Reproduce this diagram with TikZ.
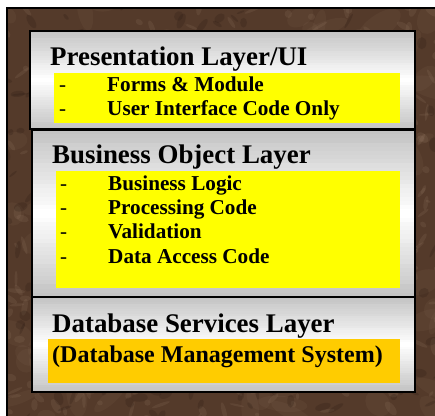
\documentclass[tikz,border=0pt]{standalone}
\usepackage{fontspec}
\setmainfont{Liberation Serif}[BoldFont={Liberation Serif Bold}]
\newfontfamily\timesbold{Liberation Serif Bold}
% vertical grey-white-grey band fill built from thin strips
\newcommand\layerfill[4]{%
  \pgfmathsetmacro{\lfh}{(#4-#2)/40}
  \foreach \k in {0,...,39}{
    \pgfmathsetmacro{\lfa}{#2+\k*\lfh}
    \pgfmathsetmacro{\lfb}{\lfa+\lfh+0.6}
    \pgfmathsetmacro{\lfs}{int(24*abs((\k+0.5)/40-0.5)*2)}
    \fill[black!\lfs] (#1,\lfa) rectangle (#3,\lfb);
  }
}
\begin{document}
\begin{tikzpicture}[x=1pt,y=-1pt,
  layerbox/.style={draw=black,line width=1.5pt},
  titletext/.style={anchor=base west,inner sep=0pt,font=\timesbold\fontsize{26.9}{30}\selectfont},
  itemtext/.style={anchor=base west,inner sep=0pt,font=\timesbold\fontsize{21.2}{24}\selectfont},
  dashtext/.style={anchor=base west,inner sep=0pt,font=\rmfamily\fontsize{21}{24}\selectfont},
  dbmstext/.style={anchor=base west,inner sep=0pt,font=\timesbold\fontsize{24}{28}\selectfont}]
\definecolor{marblebase}{RGB}{84,58,42}
\definecolor{marblelight}{RGB}{165,136,114}
\definecolor{marbledark}{RGB}{40,25,18}
\definecolor{hiyellow}{RGB}{255,255,0}
\definecolor{dbmsgold}{RGB}{255,204,0}
\useasboundingbox (0,0) rectangle (435,415);
\fill[white] (0,0) rectangle (435,415);
% marble frame behind the layers
\fill[marblebase] (7,8) rectangle (440,420);
\begin{scope}
  \clip (7,8) rectangle (435,415);
  \pgfmathsetseed{4217}
  \foreach \i in {1,...,140}{
    \pgfmathsetmacro{\px}{rnd*440}
    \pgfmathsetmacro{\py}{rnd*420}
    \pgfmathsetmacro{\ra}{8+rnd*18}
    \pgfmathsetmacro{\rb}{4+rnd*8}
    \pgfmathsetmacro{\ang}{rnd*180}
    \fill[marblelight,opacity=0.08,rotate around={\ang:(\px,\py)}] (\px,\py) ellipse [x radius=\ra,y radius=\rb];
  }
  \foreach \i in {1,...,420}{
    \pgfmathsetmacro{\px}{rnd*440}
    \pgfmathsetmacro{\py}{rnd*420}
    \pgfmathsetmacro{\ra}{2+rnd*8}
    \pgfmathsetmacro{\rb}{1+rnd*3}
    \pgfmathsetmacro{\ang}{rnd*180}
    \fill[marblelight,opacity=0.14,rotate around={\ang:(\px,\py)}] (\px,\py) ellipse [x radius=\ra,y radius=\rb];
  }
  \foreach \i in {1,...,300}{
    \pgfmathsetmacro{\px}{rnd*440}
    \pgfmathsetmacro{\py}{rnd*420}
    \pgfmathsetmacro{\ra}{2+rnd*7}
    \pgfmathsetmacro{\rb}{1+rnd*4}
    \pgfmathsetmacro{\ang}{rnd*180}
    \fill[marbledark,opacity=0.22,rotate around={\ang:(\px,\py)}] (\px,\py) ellipse [x radius=\ra,y radius=\rb];
  }
\end{scope}
\draw[black,line width=1.5pt] (7,420) -- (7,8) -- (440,8);

% three stacked layers
\layerfill{30}{31}{415}{129}
\draw[layerbox] (30,31) rectangle (415,129);
\layerfill{32}{130}{415}{297}
\draw[layerbox] (32,130) rectangle (415,297);
\layerfill{32}{297}{415}{392}
\draw[layerbox] (32,297) rectangle (415,392);

% highlight bands
\fill[hiyellow] (54,73) rectangle (400,123);
\fill[hiyellow] (56,171) rectangle (400,288);
\fill[dbmsgold] (48,339) rectangle (400,383);

% presentation layer
\node[titletext] (pt) at (50,65) {Presentation Layer/UI};
\node[dashtext] (pd1) at (59,91) {-};
\node[itemtext] (pi1) at (107,91) {Forms \& Module};
\node[dashtext] (pd2) at (59,115) {-};
\node[itemtext] (pi2) at (107,115) {User Interface Code Only};

% business object layer
\node[titletext] (bt) at (52,163) {Business Object Layer};
\node[dashtext] (bd1) at (60,190) {-};
\node[itemtext] (bi1) at (108,190) {Business Logic};
\node[dashtext] (bd2) at (60,214) {-};
\node[itemtext] (bi2) at (108,214) {Processing Code};
\node[dashtext] (bd3) at (60,238) {-};
\node[itemtext] (bi3) at (108,238) {Validation};
\node[dashtext] (bd4) at (60,263) {-};
\node[itemtext] (bi4) at (108,263) {Data Access Code};

% database services layer
\node[titletext] (dt) at (52,332) {Database Services Layer};
\node[dbmstext] (dm) at (52,362) {(Database Management System)};
\end{tikzpicture}
\end{document}
